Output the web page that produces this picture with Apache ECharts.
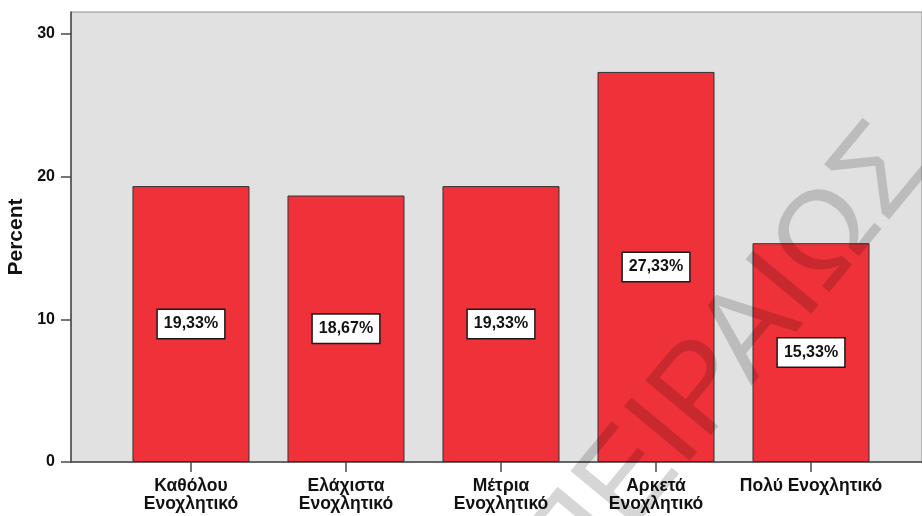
<!DOCTYPE html>
<html>
<head>
<meta charset="utf-8">
<script src="https://cdn.jsdelivr.net/npm/echarts@6/dist/echarts.min.js"></script>
<style>
html,body{margin:0;padding:0;background:#fff;}
#chart{width:922px;height:516px;}
</style>
</head>
<body>
<div id="chart"></div>
<script>
var categories = ['Καθόλου\nΕνοχλητικό', 'Ελάχιστα\nΕνοχλητικό', 'Μέτρια\nΕνοχλητικό', 'Αρκετά\nΕνοχλητικό', 'Πολύ Ενοχλητικό'];
var percents = [19.33, 18.67, 19.33, 27.33, 15.33];
var yTicks = [0, 10, 20, 30];
var categoryPositions = [1, 2, 3, 4, 5];

var seriesData = percents.map(function (v, i) { return [categoryPositions[i], v]; });
var font = 'Liberation Sans, Arial, sans-serif';

var chart = echarts.init(document.getElementById('chart'));
chart.setOption({
  animation: false,
  backgroundColor: '#ffffff',
  grid: {
    left: 71, right: 0, top: 12, bottom: 54,
    outerBoundsMode: 'none', containLabel: false,
    show: true, backgroundColor: '#e1e1e1', borderColor: '#8a8a8a', borderWidth: 1
  },
  xAxis: {
    type: 'value', min: 0.226, max: 5.716,
    axisLine: { show: true, lineStyle: { color: '#4a4a4a', width: 1.5 } },
    axisTick: { show: true, customValues: categoryPositions, length: 10, lineStyle: { color: '#4a4a4a', width: 1.5 } },
    axisLabel: {
      customValues: categoryPositions,
      formatter: function (v) { return categories[Math.round(v) - 1]; },
      margin: 15, color: '#111', fontFamily: font, fontWeight: 'bold', fontSize: 17.5, lineHeight: 18
    },
    splitLine: { show: false }
  },
  yAxis: {
    type: 'value', min: 0, max: 31.53,
    name: 'Percent', nameLocation: 'middle', nameGap: 42,
    nameTextStyle: { color: '#111', fontFamily: font, fontWeight: 'bold', fontSize: 21 },
    axisLine: { show: true, lineStyle: { color: '#4a4a4a', width: 1.5 } },
    axisTick: { show: true, customValues: yTicks, length: 10, lineStyle: { color: '#4a4a4a', width: 1.5 } },
    axisLabel: { customValues: yTicks, margin: 16, color: '#111', fontFamily: font, fontWeight: 'bold', fontSize: 16 },
    splitLine: { show: false }
  },
  series: [{
    type: 'bar',
    data: seriesData,
    barWidth: 117,
    itemStyle: { color: '#ef3139', borderColor: '#333', borderWidth: 1 },
    label: {
      show: true, position: 'inside',
      formatter: function (p) { return p.value[1].toFixed(2).replace('.', ',') + '%'; },
      backgroundColor: '#ffffff', borderColor: '#1a1a1a', borderWidth: 1.5,
      padding: [7, 6, 6, 6], color: '#111', fontFamily: font, fontWeight: 'bold', fontSize: 16, lineHeight: 15
    }
  }],
  graphic: [{
    type: 'text', z: 100, silent: true,
    x: 727, y: 362, rotation: 0.88,
    style: {
      text: 'ΠΕΙΡΑΙΩΣ', fill: 'rgba(0,0,0,0.16)',
      font: '124px "Liberation Sans", Arial, sans-serif',
      align: 'center', verticalAlign: 'middle'
    }
  }]
});
</script>
</body>
</html>
